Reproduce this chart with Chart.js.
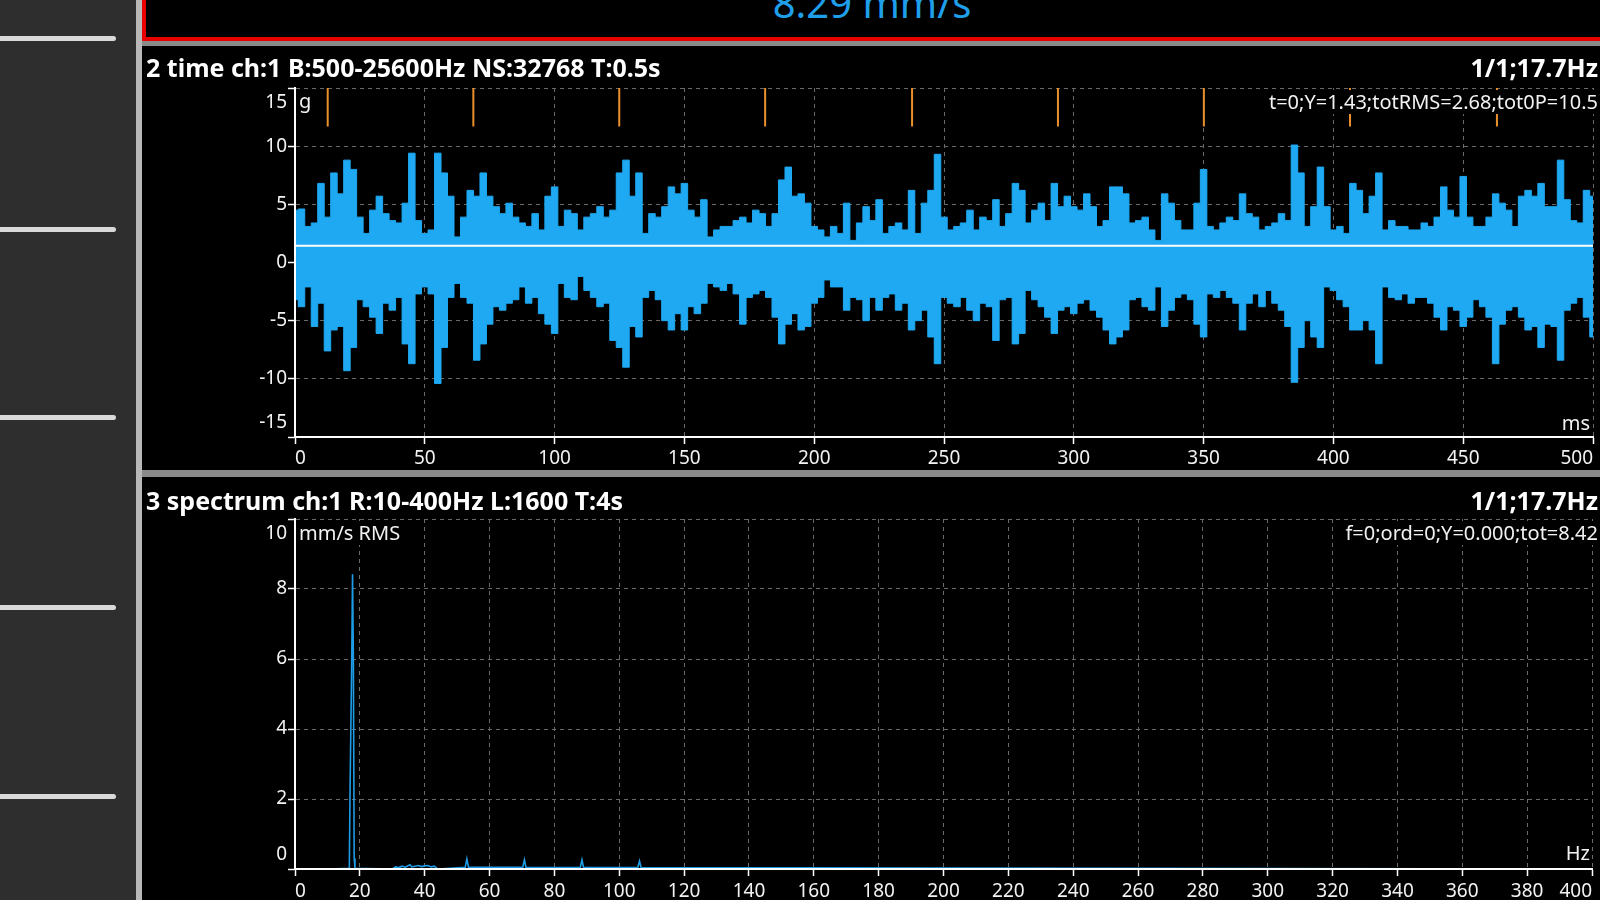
<!DOCTYPE html>
<html>
<head>
<meta charset="utf-8">
<script src="https://cdn.jsdelivr.net/npm/chart.js@4.4.0/dist/chart.umd.min.js"></script>
<style>
  html, body { margin: 0; padding: 0; width: 1600px; height: 900px; overflow: hidden; background: #000; }
  body { position: relative; font-family: "Noto Sans", "Open Sans", sans-serif; color: #fff; }
  .abs { position: absolute; }
  #sidebar { left: 0; top: 0; width: 136px; height: 900px; background: #2e2e2e; }
  #stripe { left: 136px; top: 0; width: 6px; height: 900px; background: #b8b8b8; }
  .bar { left: 0; width: 116px; height: 5px; background: #d9d9d9; border-radius: 0 3px 3px 0; }
  #redbox { left: 142px; top: -10px; width: 1500px; height: 51px; box-sizing: border-box; border: 4px solid #e60000; background: #000; }
  .sep { left: 142px; width: 1458px; background: #8a8a8a; }
  #big { left: 672px; width: 400px; top: -17px; text-align: center; font-size: 40px; line-height: 40px; color: #1f9fea; }
  .title { font-weight: bold; font-size: 25px; line-height: 28px; white-space: nowrap; }
  .note { font-size: 20px; line-height: 24px; white-space: nowrap; background: #000; color: #f2f2f2; }
</style>
</head>
<body>
<div id="sidebar" class="abs"></div>
<div id="stripe" class="abs"></div>
<div class="abs bar" style="top:36px"></div>
<div class="abs bar" style="top:227px"></div>
<div class="abs bar" style="top:415px"></div>
<div class="abs bar" style="top:605px"></div>
<div class="abs bar" style="top:794px"></div>
<div id="redbox" class="abs"></div>
<div id="big" class="abs">8.29 mm/s</div>
<div class="abs sep" style="top:41px;height:5px"></div>
<div class="abs sep" style="top:470px;height:7px"></div>

<canvas id="timeChart" class="abs" width="1457" height="424" style="left:143px;top:46px"></canvas>
<canvas id="specChart" class="abs" width="1457" height="423" style="left:143px;top:477px"></canvas>

<div class="abs title" style="left:146px;top:53px">2 time ch:1 B:500-25600Hz NS:32768 T:0.5s</div>
<div class="abs title" style="right:2px;top:53px">1/1;17.7Hz</div>
<div class="abs note" style="right:2px;top:90px;padding-left:4px">t=0;Y=1.43;totRMS=2.68;tot0P=10.5</div>
<div class="abs note" style="left:299px;top:89px;padding-right:3px">g</div>
<div class="abs note" style="right:10px;top:411px">ms</div>

<div class="abs title" style="left:146px;top:486px">3 spectrum ch:1 R:10-400Hz L:1600 T:4s</div>
<div class="abs title" style="right:2px;top:486px">1/1;17.7Hz</div>
<div class="abs note" style="right:2px;top:521px;padding-left:4px">f=0;ord=0;Y=0.000;tot=8.42</div>
<div class="abs note" style="left:299px;top:521px;padding-right:4px">mm/s RMS</div>
<div class="abs note" style="right:10px;top:841px">Hz</div>

<script>
// time waveform envelope, one max/min pair every 2.5 ms (g)
const envStep = 2.5;
const timeUpper = [
  4.5, 4.6, 3.1, 3.4, 6.8, 3.9, 7.7, 5.9, 8.8, 8.0,
  3.9, 2.5, 4.5, 5.7, 4.2, 3.6, 3.4, 5.1, 9.4, 3.6,
  2.5, 2.8, 9.4, 7.7, 5.7, 2.2, 3.9, 6.2, 5.7, 7.7,
  5.7, 4.8, 4.2, 5.1, 3.9, 3.4, 3.1, 4.2, 2.8, 5.7,
  6.5, 3.1, 4.5, 4.2, 2.8, 3.9, 4.2, 4.8, 3.9, 4.5,
  7.7, 8.8, 5.7, 7.7, 2.5, 4.2, 3.9, 4.8, 6.5, 5.9,
  6.8, 4.5, 3.9, 5.4, 2.2, 2.8, 3.1, 3.1, 3.6, 3.9,
  3.4, 4.5, 4.2, 3.1, 4.2, 7.1, 8.2, 5.7, 5.9, 5.1,
  3.1, 2.8, 2.2, 3.1, 2.5, 5.1, 1.9, 3.4, 4.8, 3.6,
  5.4, 2.5, 3.1, 3.4, 2.8, 6.2, 2.5, 5.1, 6.2, 9.3,
  3.9, 2.8, 3.1, 3.4, 4.5, 2.8, 3.9, 3.6, 5.4, 3.1,
  4.2, 6.8, 6.2, 3.4, 4.5, 5.1, 3.6, 6.8, 4.8, 5.7,
  4.8, 4.5, 5.9, 4.8, 3.1, 3.6, 6.5, 6.5, 5.9, 3.4,
  3.6, 3.9, 2.8, 1.9, 5.9, 5.1, 3.6, 2.8, 2.8, 5.1,
  8.0, 3.1, 2.8, 3.4, 3.9, 3.6, 5.9, 4.2, 3.9, 2.8,
  3.1, 3.4, 4.2, 3.6, 10.1, 7.7, 3.1, 4.8, 8.2, 4.8,
  2.8, 3.1, 2.5, 6.8, 6.2, 4.2, 5.7, 7.7, 2.8, 3.6,
  3.1, 3.1, 2.8, 2.8, 3.4, 3.1, 3.9, 6.5, 4.5, 3.9,
  7.4, 3.9, 3.1, 3.1, 3.9, 5.9, 5.1, 4.5, 3.1, 5.7,
  6.2, 5.7, 6.8, 4.8, 4.8, 8.8, 5.4, 3.6, 3.4, 6.2, 5.7
];
const timeLower = [
  -3.2, -3.8, -2.1, -5.5, -3.5, -7.6, -5.8, -5.5, -9.3, -7.3,
  -3.2, -3.8, -4.7, -6.1, -3.5, -4.1, -3.0, -7.0, -8.7, -2.7,
  -2.1, -2.7, -10.4, -7.3, -3.0, -1.8, -3.0, -3.5, -8.4, -7.0,
  -5.3, -3.8, -4.1, -3.5, -3.2, -2.1, -3.5, -3.0, -4.4, -5.3,
  -6.1, -1.8, -3.0, -3.2, -1.2, -2.4, -3.0, -3.8, -3.5, -6.7,
  -7.3, -9.0, -5.5, -6.4, -3.0, -2.4, -3.2, -5.0, -5.8, -4.4,
  -5.8, -3.8, -4.4, -3.5, -1.8, -2.1, -2.4, -1.8, -2.7, -5.3,
  -3.0, -2.7, -2.4, -3.0, -4.7, -7.0, -5.3, -4.4, -5.8, -5.5,
  -3.5, -3.0, -1.5, -2.1, -2.1, -4.1, -3.0, -3.2, -5.0, -3.0,
  -4.1, -3.0, -2.7, -4.1, -3.5, -5.8, -5.0, -4.1, -6.4, -8.7,
  -3.0, -3.5, -3.8, -3.0, -4.1, -5.0, -3.5, -3.8, -6.7, -3.2,
  -3.0, -7.0, -6.1, -2.4, -3.2, -3.8, -4.7, -6.1, -4.1, -3.8,
  -4.4, -3.5, -3.2, -4.1, -4.7, -5.8, -7.0, -6.4, -5.8, -3.2,
  -3.0, -3.8, -4.1, -2.1, -5.5, -4.1, -3.0, -2.7, -3.2, -5.3,
  -6.4, -2.7, -3.0, -2.4, -3.0, -3.5, -5.8, -3.5, -2.7, -3.8,
  -2.4, -3.5, -4.1, -5.5, -10.3, -7.3, -5.0, -6.4, -7.3, -2.1,
  -2.4, -3.2, -3.8, -5.8, -5.8, -5.0, -5.8, -8.7, -2.1, -3.0,
  -3.2, -2.7, -3.5, -3.0, -3.0, -3.5, -4.7, -5.8, -3.8, -4.1,
  -5.5, -4.7, -3.2, -3.8, -4.7, -8.7, -5.3, -4.1, -3.8, -4.7,
  -5.8, -5.5, -7.3, -5.3, -5.5, -8.4, -4.1, -3.5, -3.0, -4.7, -6.4
];
// once-per-rev tacho pulses (ms) and cursor level (g)
const tachoTimes = [12.6, 68.7, 124.9, 181.1, 237.7, 293.9, 350.1, 406.4, 463.0];
const tachoLow = 11.7;
const tachoHigh = 15;
const cursorY = 1.43;

// velocity spectrum (Hz, mm/s RMS)
const specFreq = [0, 10, 16.75, 17.0, 17.25, 17.5, 17.75, 18.0, 18.25, 18.5,
  30, 31, 32, 33, 34, 35, 35.5, 36, 37, 38, 39, 40, 41, 42, 43, 44,
  52.5, 53, 53.5, 70.25, 70.75, 71.25, 88, 88.5, 89, 105.75, 106.25, 106.75, 400];
const specAmp = [0, 0, 0.02, 2.4, 2.4, 6.0, 8.42, 6.0, 0.3, 0.02,
  0, 0.06, 0.04, 0.08, 0.05, 0.1, 0.12, 0.06, 0.08, 0.1, 0.07, 0.09, 0.1, 0.06, 0.08, 0,
  0.05, 0.29, 0.05, 0.05, 0.26, 0.04, 0.05, 0.26, 0.04, 0.05, 0.23, 0.04, 0];

const waveBlue = '#1ea9f2';
const specBlue = '#1e9de6';
const gridColor = '#6a6a6a';
const tickFont = { family: 'Noto Sans', size: 19 };

function yAxis(min, max, step, width) {
  return {
    type: 'linear', min, max,
    ticks: {
      stepSize: step, color: '#f2f2f2', padding: 1, autoSkip: false,
      font: { ...tickFont, lineHeight: 1.5 },
      callback: v => v === max ? ['', String(v)] : v === min ? [String(v), ''] : String(v)
    },
    grid: { color: gridColor, tickColor: '#ffffff', tickLength: 7, tickWidth: 1.5, tickBorderDash: [] },
    border: { color: '#ffffff', width: 2, dash: [4, 4], z: 1 },
    afterFit: s => { s.width = width; }
  };
}

function xAxis(max, step, height, pad) {
  return {
    type: 'linear', min: 0, max, offset: false,
    ticks: { stepSize: step, color: '#f2f2f2', padding: pad, align: 'inner', maxRotation: 0, autoSkip: false, font: tickFont },
    grid: { color: gridColor, tickColor: '#ffffff', tickLength: 7, tickWidth: 1.5, tickBorderDash: [], offset: false },
    border: { color: '#ffffff', width: 2, dash: [4, 4], z: 1 },
    afterFit: s => { s.height = height; }
  };
}

const baseOptions = {
  responsive: false,
  animation: false,
  devicePixelRatio: 1,
  events: [],
  plugins: { legend: { display: false }, tooltip: { enabled: false } }
};

const times = timeUpper.map((_, i) => i * envStep);

new Chart(document.getElementById('timeChart'), {
  type: 'line',
  data: {
    datasets: [
      {
        label: 'cursor',
        data: [{ x: 0, y: cursorY }, { x: 500, y: cursorY }],
        borderColor: '#ffffff', borderWidth: 2, pointRadius: 0, order: 0
      },
      {
        label: 'tacho',
        data: tachoTimes.flatMap(t => [{ x: t, y: tachoLow }, { x: t, y: tachoHigh }, { x: t, y: null }]),
        borderColor: '#e8902c', borderWidth: 2, pointRadius: 0, spanGaps: false, order: 1
      },
      {
        label: 'max',
        data: times.map((t, i) => ({ x: t, y: timeUpper[i] })),
        borderColor: waveBlue, backgroundColor: waveBlue, borderWidth: 1, pointRadius: 0,
        stepped: 'middle', fill: '+1', order: 2
      },
      {
        label: 'min',
        data: times.map((t, i) => ({ x: t, y: timeLower[i] })),
        borderColor: waveBlue, borderWidth: 1, pointRadius: 0,
        stepped: 'middle', fill: false, order: 3
      }
    ]
  },
  options: {
    ...baseOptions,
    layout: { padding: { top: 42, right: 7, left: 0, bottom: 0 } },
    scales: { x: xAxis(500, 50, 33, 3), y: yAxis(-15, 15, 5, 152) }
  }
});

new Chart(document.getElementById('specChart'), {
  type: 'line',
  data: {
    datasets: [{
      label: 'spectrum',
      data: specFreq.map((f, i) => ({ x: f, y: specAmp[i] })),
      borderColor: specBlue, borderWidth: 1.6, pointRadius: 0, fill: false
    }]
  },
  options: {
    ...baseOptions,
    layout: { padding: { top: 42, right: 8, left: 0, bottom: 0 } },
    scales: { x: xAxis(400, 20, 31, 4), y: yAxis(0, 10, 2, 152) }
  }
});
</script>
</body>
</html>
